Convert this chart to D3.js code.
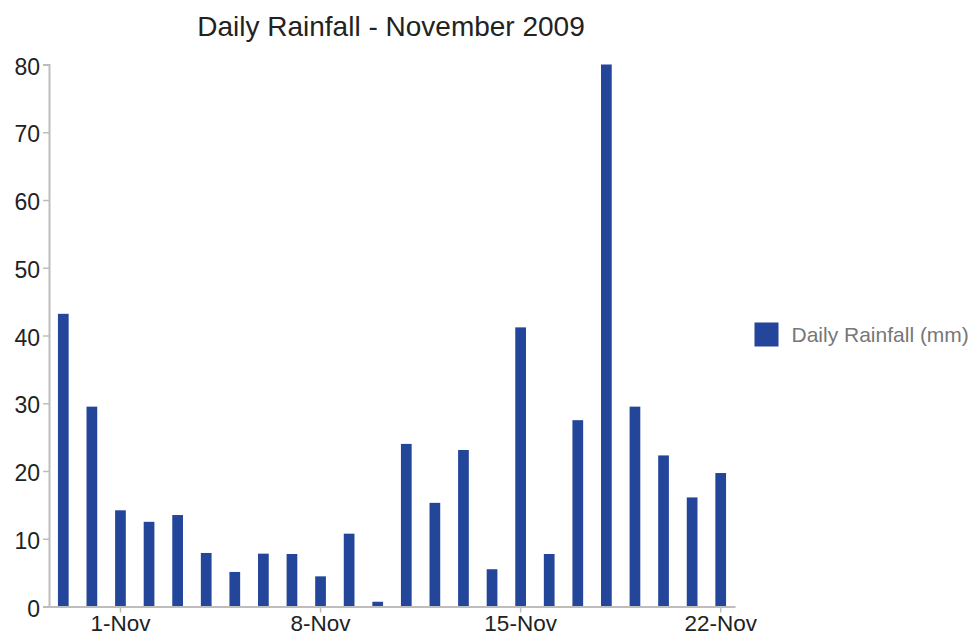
<!DOCTYPE html>
<html>
<head>
<meta charset="utf-8">
<script src="https://cdn.jsdelivr.net/npm/d3@7"></script>
<style>
  html, body { margin: 0; padding: 0; background: #fff; }
  svg { display: block; font-family: "Liberation Sans", Arial, Helvetica, sans-serif; }
</style>
</head>
<body>
<svg id="chart" width="979" height="636"></svg>
<script>
const categories = ["30-Oct","31-Oct","1-Nov","2-Nov","3-Nov","4-Nov","5-Nov","6-Nov","7-Nov","8-Nov","9-Nov","10-Nov","11-Nov","12-Nov","13-Nov","14-Nov","15-Nov","16-Nov","17-Nov","18-Nov","19-Nov","20-Nov","21-Nov","22-Nov"];
const rainfall = [43.2, 29.5, 14.2, 12.5, 13.5, 7.9, 5.1, 7.8, 7.75, 4.45, 10.75, 0.7, 24.0, 15.3, 23.1, 5.5, 41.2, 7.75, 27.5, 80, 29.5, 22.3, 16.1, 19.7];
const xTickLabels = ["1-Nov","8-Nov","15-Nov","22-Nov"];
const yTicks = [0,10,20,30,40,50,60,70,80];
const seriesName = "Daily Rainfall (mm)";
const titleText = "Daily Rainfall - November 2009";

const svg = d3.select("#chart");
const color = "#23459a";
const axisColor = "#bdbdbd";

const x = d3.scaleBand().domain(categories).range([49, 735]).paddingInner(0.625).paddingOuter(0.3125);
const y = d3.scaleLinear().domain([0, 80]).range([606.5, 64.5]);

// Bars
svg.append("g").selectAll("rect").data(rainfall).join("rect")
  .attr("x", (d, i) => x(categories[i]))
  .attr("width", x.bandwidth())
  .attr("y", d => y(d))
  .attr("height", d => y(0) - y(d))
  .attr("fill", color);

// Y axis
const yAxis = svg.append("g").attr("transform", "translate(49,0)")
  .call(d3.axisLeft(y).tickValues(yTicks).tickSize(6).tickPadding(3).tickFormat(d3.format("d")));
yAxis.select(".domain").attr("stroke", axisColor).attr("stroke-width", 2);
yAxis.selectAll(".tick line").attr("stroke", axisColor).attr("stroke-width", 1.5);
yAxis.selectAll(".tick text").attr("fill", "#222").style("font-size", "23px").attr("dy", "0.42em");

// X axis
const xAxis = svg.append("g").attr("transform", `translate(0,${y(0)})`)
  .call(d3.axisBottom(x).tickValues(xTickLabels).tickSize(6).tickSizeOuter(0).tickPadding(0));
xAxis.select(".domain").attr("stroke", axisColor).attr("stroke-width", 2);
xAxis.selectAll(".tick line").attr("stroke", axisColor).attr("stroke-width", 1.5);
xAxis.selectAll(".tick text").attr("fill", "#222").style("font-size", "22.5px")
  .attr("y", 0).attr("dy", null).attr("dominant-baseline", null)
  .attr("transform", "translate(0,24.3)");

// Title
svg.append("text")
  .attr("x", 391).attr("y", 36)
  .attr("text-anchor", "middle")
  .attr("fill", "#222")
  .style("font-size", "28px")
  .text(titleText);

// Legend
const legend = svg.append("g").attr("transform", "translate(754.5,322.5)");
legend.append("rect").attr("width", 24).attr("height", 24).attr("fill", color);
legend.append("text").attr("x", 37).attr("y", 12).attr("dy", "0.36em")
  .attr("fill", "#777").style("font-size", "21px").text(seriesName);
</script>
</body>
</html>
